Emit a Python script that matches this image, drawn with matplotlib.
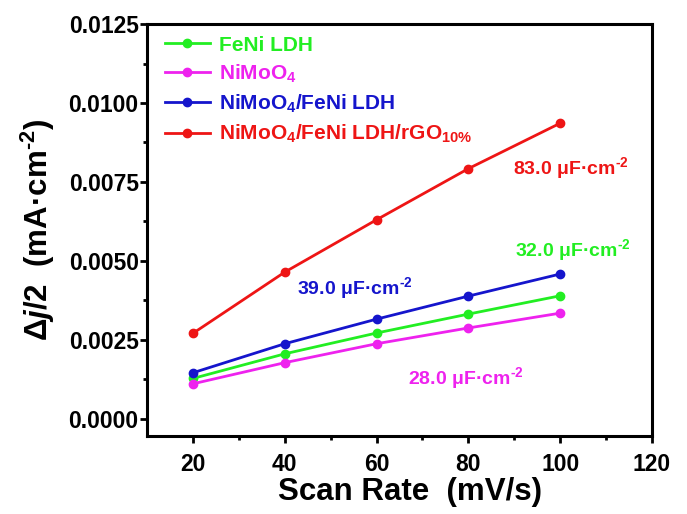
import matplotlib
matplotlib.use("Agg")
import matplotlib.pyplot as plt

# data
scan_rate = [20, 40, 60, 80, 100]
feni_ldh = [0.00127, 0.00205, 0.00271, 0.00331, 0.00389]
nimoo4 = [0.00110, 0.00177, 0.00237, 0.00287, 0.00334]
nimoo4_feni = [0.00145, 0.00237, 0.00315, 0.00388, 0.00458]
nimoo4_feni_rgo = [0.00270, 0.00464, 0.00630, 0.00792, 0.00936]

labels = ["FeNi LDH", "NiMoO$_4$", "NiMoO$_4$/FeNi LDH", "NiMoO$_4$/FeNi LDH/rGO$_{10\\%}$"]
colors = ["#22EE22", "#EE22EE", "#1515CC", "#EE1515"]
cdl_text = ["32.0 μF·cm$^{\\text{-2}}$", "28.0 μF·cm$^{\\text{-2}}$",
            "39.0 μF·cm$^{\\text{-2}}$", "83.0 μF·cm$^{\\text{-2}}$"]
cdl_pos = [(90.2, 0.00533), (66.8, 0.00127), (42.7, 0.00412), (89.7, 0.00793)]

plt.rcParams['font.family'] = ['Liberation Sans', 'DejaVu Sans']
plt.rcParams['font.weight'] = 'bold'
plt.rcParams['mathtext.fontset'] = 'custom'
plt.rcParams['mathtext.rm'] = 'Liberation Sans:bold'
plt.rcParams['mathtext.it'] = 'Liberation Sans:italic:bold'
plt.rcParams['mathtext.bf'] = 'Liberation Sans:bold'

fig = plt.figure(figsize=(6.87, 5.14), dpi=100)
ax = fig.add_axes([0.214, 0.152, 0.735, 0.801])

series = [feni_ldh, nimoo4, nimoo4_feni, nimoo4_feni_rgo]
for ys, c, lab in zip(series, colors, labels):
    ax.plot(scan_rate, ys, color=c, lw=2, marker='o', ms=6, label=lab)

for txt, (x, y), c in zip(cdl_text, cdl_pos, colors):
    ax.text(x, y, txt, color=c, fontsize=14, fontweight='bold', va='center')

ax.set_xlim(10, 120)
ax.set_ylim(-0.00055, 0.0125)
ax.set_xticks([20, 40, 60, 80, 100, 120])
ax.set_xticks([30, 50, 70, 90, 110], minor=True)
ax.set_yticks([0, 0.0025, 0.005, 0.0075, 0.01, 0.0125])
ax.set_yticks([0.00125, 0.00375, 0.00625, 0.00875, 0.01125], minor=True)
ax.yaxis.set_major_formatter(plt.FormatStrFormatter('%.4f'))

for s in ax.spines.values():
    s.set_linewidth(2.2)
ax.tick_params(which='major', direction='out', length=5, width=2, labelsize=16.5)
ax.tick_params(which='minor', direction='out', length=3, width=2)
ax.tick_params(axis='x', which='major', pad=7)
ax.tick_params(axis='y', which='major', pad=1)

ax.set_xlabel("Scan Rate  (mV/s)", fontsize=22.5, fontweight='bold', labelpad=0)
ax.xaxis.set_label_coords(0.52, -0.1)
ax.set_ylabel("Δ$\\mathit{j}$/2  (mA·cm$^{\\text{-2}}$)", fontsize=22.5, fontweight='bold', labelpad=8)

leg = ax.legend(loc='upper left', bbox_to_anchor=(0.012, 1.0), frameon=False, fontsize=15,
                handlelength=2.2, handletextpad=0.4, labelspacing=0.38, borderaxespad=0.15)
for t, c in zip(leg.get_texts(), colors):
    t.set_color(c)
    t.set_fontweight('bold')

fig.savefig("out.png", dpi=100)
